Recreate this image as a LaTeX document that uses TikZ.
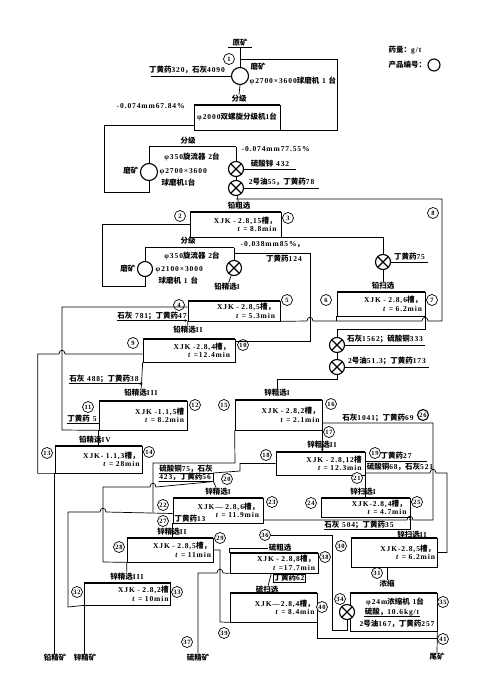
\documentclass[tikz,border=0pt]{standalone}
\usepackage{fontspec}
\setmainfont{Liberation Serif}[LetterSpace=12]
\newfontfamily\cjk{Noto Sans CJK SC}
\usetikzlibrary{arrows.meta}
% CJK characters switch to the CJK family automatically
\XeTeXinterchartokenstate=1
\newXeTeXintercharclass\CJKcls
\newcount\cjkn
\cjkn="4E00 \loop\XeTeXcharclass\cjkn=\CJKcls \ifnum\cjkn<"9FFF \advance\cjkn by 1 \repeat
\cjkn="3000 \loop\XeTeXcharclass\cjkn=\CJKcls \ifnum\cjkn<"303F \advance\cjkn by 1 \repeat
\cjkn="FF00 \loop\XeTeXcharclass\cjkn=\CJKcls \ifnum\cjkn<"FFEF \advance\cjkn by 1 \repeat
\XeTeXinterchartoks 0 \CJKcls = {\begingroup\cjk}
\XeTeXinterchartoks 4095 \CJKcls = {\begingroup\cjk}
\XeTeXinterchartoks \CJKcls 0 = {\endgroup}
\XeTeXinterchartoks \CJKcls 4095 = {\endgroup}

\tikzstyle{num} = [circle, draw, fill=white, line width=0.7pt, inner sep=0pt, minimum size=11pt, font=\bfseries\fontsize{6.5}{6.5}\selectfont]
\tikzstyle{mill} = [circle, draw, line width=1.1pt, inner sep=0pt, minimum size=17pt]
\tikzstyle{agit} = [circle, draw, fill=white, line width=1.1pt, inner sep=0pt, minimum size=15pt, path picture={\draw[line width=1.1pt] (path picture bounding box.south west) -- (path picture bounding box.north east) (path picture bounding box.north west) -- (path picture bounding box.south east);}]
\tikzstyle{cell} = [rectangle, draw, line width=0.7pt, inner xsep=2pt, inner ysep=1pt, align=right, text width=82pt, font=\bfseries\fontsize{7.5}{8.5}\selectfont]
\tikzstyle{txt} = [inner sep=0.5pt, font=\bfseries\fontsize{7.5}{8}\selectfont]
\tikzstyle{tag} = [txt, fill=white]
\tikzstyle{flow} = [line width=0.7pt]
\tikzstyle{bar} = [line width=1.8pt]
\tikzstyle{cyc} = [line width=0.6pt, double, double distance=1pt]
\tikzstyle{arrow} = [flow, -{Stealth[length=3pt, width=2.5pt]}]

\begin{document}
\begin{tikzpicture}[x=1pt, y=-1pt]
\useasboundingbox (0,0) rectangle (488,677);

% legend
\node[txt, anchor=west] (dose) at (388,50) {药量：g/t};
\node[txt, anchor=west] (code) at (388,65) {产品编号：};
\node[num, minimum size=12pt, line width=1.1pt] (key) at (434,65) {};

% machines
\node[txt, minimum width=24pt] (feed) at (240,43) {原矿};
\node[mill] (m1) at (240,76) {};
\node[mill] (m2) at (149,172) {};
\node[mill, minimum size=15pt] (m3) at (145,269) {};
\node[cell, minimum width=86pt, minimum height=25pt, align=center] (cls) at (237,117.5) {φ2000双螺旋分级机1台};
\coordinate (cy1a) at (149,147);
\coordinate (cy1b) at (236,147);
\coordinate (cy2a) at (145,248);
\coordinate (cy2b) at (234,248);

% flotation cells
\node[cell, minimum width=91pt, minimum height=25pt] (c2) at (235.5,224.5) {XJK - 2.8,15槽，\\\textit{t} = 8.8min};
\node[cell, minimum width=92pt, minimum height=20pt] (c4) at (234,311) {XJK - 2.8,5槽，\\\textit{t} = 5.3min};
\node[cell, minimum width=88pt, minimum height=24pt] (c6) at (381,304) {XJK - 2.8,6槽，\\\textit{t} = 6.2min};
\node[cell, minimum width=92pt, minimum height=23pt] (c9) at (189,350.5) {XJK -2.8,4槽，\\\textit{t} =12.4min};
\node[cell, minimum width=88pt, minimum height=29pt] (c11) at (143,415.5) {XJK -1.1,5槽\\\textit{t} = 8.2min};
\node[cell, minimum width=87pt, minimum height=27pt] (c13) at (98.5,459.5) {XJK- 1.1,3槽，\\\textit{t} = 28min};
\node[cell, minimum width=87pt, minimum height=30pt] (c15) at (278.5,415) {XJK - 2.8,2槽，\\\textit{t} = 2.1min};
\node[cell, minimum width=89pt, minimum height=23pt] (c18) at (320.5,463.5) {XJK - 2.8,12槽\\\textit{t} = 12.3min};
\node[cell, minimum width=90pt, minimum height=25pt] (c22) at (218,510.5) {XJK— 2.8,6槽，\\\textit{t} = 11.9min};
\node[cell, minimum width=89pt, minimum height=19pt] (c24) at (365.5,507.5) {XJK-2.8,4槽，\\\textit{t} = 4.7min};
\node[cell, minimum width=84pt, minimum height=24pt] (c28) at (170,550) {XJK - 2.8,5槽，\\\textit{t} = 11min};
\node[cell, minimum width=86pt, minimum height=29pt] (c30) at (394,552.5) {XJK-2.8,5槽，\\\textit{t} = 6.2min};
\node[cell, minimum width=85pt, minimum height=22pt] (c32) at (127.5,594) {XJK - 2.8,2槽\\\textit{t} = 10min};
\node[cell, minimum width=88pt, minimum height=20pt] (c38) at (274,563) {XJK - 2.8,8槽，\\\textit{t} =17.7min};
\node[cell, minimum width=87pt, minimum height=29pt] (c40) at (273.5,607.5) {XJK—2.8,4槽，\\\textit{t} = 8.4min};
\node[draw, line width=0.7pt, minimum width=87pt, minimum height=38pt, inner sep=0pt] (c34) at (393.5,612) {};

% conditioning tanks
\node[agit] (a1) at (236,169) {};
\node[agit] (a2) at (236,188) {};
\node[agit] (a3) at (234,268) {};
\node[agit] (a5) at (383,262) {};
\node[agit] (a4) at (337,345) {};
\node[agit] (a6) at (337,367) {};

% stage names
\node[txt] (l1) at (239,99) {分级};
\node[txt] (l2) at (188,141) {分级};
\node[tag] (l3) at (239,206) {铅粗选};
\node[txt] (l4) at (188,241) {分级};
\node[tag] (l5) at (227,287) {铅精选I};
\node[tag] (l6) at (383,286) {铅扫选};
\node[tag] (l7) at (188,330) {铅精选II};
\node[tag] (l8) at (141,393) {铅精选III};
\node[tag] (l10) at (95,440) {铅精选IV};
\node[tag] (l9) at (277,393) {锌粗选I};
\node[tag] (l11) at (322,445) {锌粗选II};
\node[tag] (l12) at (363,492) {锌扫选I};
\node[tag] (l13) at (412,535) {锌扫选II};
\node[tag] (l14) at (387,584) {浓缩};
\node[tag] (l15) at (280,548) {硫粗选};
\node[tag] (l16) at (267,590) {硫扫选};
\node[tag] (l17) at (218,492) {锌精选I};
\node[tag] (l18) at (172,532) {锌精选II};
\node[tag] (l19) at (127,577) {锌精选III};
\node[txt] (pb) at (55,658) {铅精矿};
\node[txt] (zn) at (85,658) {锌精矿};
\node[txt] (sconc) at (198,658) {硫精矿};
\node[txt] (tail) at (437,657) {尾矿};

% equipment notes and reagents
\node[txt, anchor=west] at (250,67) {磨矿};
\node[txt, anchor=west] at (249,81) {φ2700×3600球磨机 1 台};
\node[txt, anchor=west] at (116,106) {-0.074mm67.84\%};
\node[txt] at (192,157) {φ350旋流器 2台};
\node[txt, anchor=east] at (139,171) {磨矿};
\node[txt, anchor=west] at (159,172) {φ2700×3600};
\node[txt, anchor=west] at (161,183) {球磨机1台};
\node[txt, anchor=west] at (241,149) {-0.074mm77.55\%};
\node[txt] at (192,256) {φ350旋流器 2台};
\node[txt, anchor=west] at (240,245) {-0.038mm85\%，};
\node[txt, anchor=east] at (136,269) {磨矿};
\node[txt, anchor=west] at (155,270) {φ2100×3000};
\node[txt, anchor=west] at (158,281) {球磨机 1 台};
\node[txt] at (284,259) {丁黄药124};
\node[txt] (r4) at (152,316) {石灰 781；丁黄药47};
\node[txt] (r9) at (104,379) {石灰 488；丁黄药38};
\node[txt] (r11) at (82,419) {丁黄药 5};
\node[txt] at (378,418) {石灰1041；丁黄药69};
\node[txt] (r24) at (359,525) {石灰 504；丁黄药35};
\node[txt, align=left] (r20) at (186,473) {硫酸铜75，石灰\\423，丁黄药56};
\node[txt] (r22) at (190,519) {丁黄药13};
\node[txt, draw, line width=0.7pt] (r38) at (289,578) {丁黄药62};
\node[txt] at (395,602) {φ24m浓缩机 1台};
\node[txt] (r34) at (392,612) {硫酸，10.6kg/t};
\node[txt] at (397,624) {2号油167，丁黄药257};
\node[agit] (a7) at (347,612) {};

% stream numbers
\node[num] (n1) at (229,59) {1};
\node[num] (n2) at (180,216) {2};
\node[num] (n3) at (288,218) {3};
\node[num] (n4) at (179,305) {4};
\node[num] (n5) at (287,300) {5};
\node[num] (n6) at (326,300) {6};
\node[num] (n7) at (432,300) {7};
\node[num] (n8) at (433,213) {8};
\node[num] (n9) at (133,343) {9};
\node[num] (n10) at (243,345) {10};
\node[num] (n11) at (88,407) {11};
\node[num] (n12) at (195,405) {12};
\node[num] (n13) at (47,453) {13};
\node[num] (n14) at (149,452) {14};
\node[num] (n15) at (224,405) {15};
\node[num] (n16) at (331,404) {16};
\node[num] (n17) at (329,432) {17};
\node[num] (n18) at (266,455) {18};
\node[num] (n19) at (375,453) {19};
\node[num] (n20) at (227,479) {20};
\node[num] (n21) at (357,478) {21};
\node[num] (n22) at (163,505) {22};
\node[num] (n23) at (272,502) {23};
\node[num] (n24) at (311,503) {24};
\node[num] (n25) at (417,502) {25};
\node[num, line width=1.1pt] (n26) at (423,415) {26};
\node[num] (n27) at (163,521) {27};
\node[num] (n28) at (119,547) {28};
\node[num] (n30) at (341,546) {30};
\node[num] (n31) at (377,573) {31};
\node[num] (n32) at (77,592) {32};
\node[num] (n33) at (177,592) {33};
\node[num] (n34) at (340,599) {34};
\node[num] (n35) at (443,602) {35};
\node[num] (n36) at (265,535) {36};
\node[num] (n37) at (187,642) {37};
\node[num] (n38) at (325,557) {38};
\node[num] (n39) at (224,633) {39};
\node[num] (n40) at (322,607) {40};
\node[num] (n41) at (443,639) {41};

% grinding connectors
\draw[flow] (feed.south west) -- (feed.south east);
\draw[flow] (feed.south) -- (m1.north);
\draw[flow] (m1.west) -- ++(-80,0) node[txt, pos=0.55, above=1pt] {丁黄药320，石灰4090};
\draw[flow] (m1.south) -- (l1.north);
\draw[flow] (cls.south east) -- ++(57,0) |- (feed.south |- n1);
\draw[flow] ([yshift=5pt]cls.south west) -| ++(-89,67) -| (m2.south);
\draw[cyc] (cy1a) -- (cy1b);
\draw[flow] (cy1a) -- (m2.north);
\draw[flow] (cy1b) -- (a1.north);
\draw[flow] (a1) -- (a2);
\draw[flow] (a1.east) -- ++(52,0) node[txt, midway, above=1pt] {硫酸锌 432};
\draw[flow] (a2.east) -- ++(75,0) node[txt, midway, above=1pt] {2号油55，丁黄药78};

% lead circuit
\coordinate (p8) at (442,199);
\coordinate (p10) at (310,253);
\draw[flow] (a2) -- (l3);
\draw[flow] (c2.west) -| ++(-87,62) -| (m3.south);
\draw[cyc] (cy2a) -- (cy2b);
\draw[flow] (cy2a) -- (m3.north);
\draw[flow] (cy2b) -- (a3.north);
\draw[flow] (a3) -- (l5);
\draw[flow] (c4.south east) -- (307,321) .. controls (307,316) and (313,316) .. (313,321) -- (422,321) .. controls (422,316) and (428,316) .. (428,321) -| (p8) -- (a2 |- p8);
\draw[flow] (c2.south east) -| (a5.north);
\draw[flow] (a5.east) -- ++(37,0) node[txt, midway, above=1pt] {丁黄药75};
\draw[flow] (a5) -- (l6);
\draw[flow] (c6.south west) -- ++(0,5);
\draw[flow] (c6.south east) -- ++(0,13) -| (a4.north);
\draw[flow] (c4.south west) -- (l7);
\draw[flow] ([yshift=-3pt]c9.north east) -| (p10) -- (p10 -| a3);
\draw[arrow] (r4.south west) -- (r4.south west -| c4.south west);
\draw[flow] ([yshift=4pt]c4.west) -| (62,430) -- (c11.south west);
\draw[flow] (c9.south west) -- (l8);
\draw[arrow] (r9.south west) -- (r9.south west -| c9.south west);
\draw[flow] (r11.south west) -- (r11.south west -| c11.west);
\draw[flow] (c11.south west) -- (c11.south west |- c13.north);
\draw[flow] (c13.south west) -- ++(-17,0) |- (59,354) .. controls (59,349) and (65,349) .. (65,354) -- (c9.west |- 0,354);
\draw[flow] (c13.south west) -- (c13.south west |- pb.north);

% zinc circuit
\draw[flow] (a4) -- (a6);
\draw[flow] (a4.east) -- ++(80,0) node[txt, midway, above=1pt] {石灰1562；硫酸铜333};
\draw[flow] (a6.east) -- ++(84,0) node[txt, midway, above=1pt] {2号油51.3；丁黄药173};
\draw[flow] (a6.south) -- ++(0,4) -| (l9.north);
\draw[flow] (c22.east |- 0,520) -- (407,520) .. controls (407,515) and (413,515) .. (413,520) -| (433,423) -- (c15.east |- 0,423);
\draw[arrow] (c15.south east) -- (c15.south east |- c18.north);
\draw[flow] (c18.east |- 0,461) -- (427,461) node[txt, midway, above=0.5pt] {丁黄药27};
\draw[flow] (c18.east |- 0,473) -- (430,473) .. controls (430,468) and (436,468) .. (436,473) -- (447,473) |- (c30.east);
\node[txt] at (400,467) {硫酸铜68，石灰521};
\draw[flow] (c15.south west) -- (235,463) -- (153,463) -- (153,512);
\draw[flow] (r20.south west) -- (r20.south east) -- (r20.east) -- (240,471) |- (c18.west);
\draw[flow] (r20.west) -- (r20.east);
\draw[flow] (r20.south east) -- (l17);
\draw[flow] (c18.south east) -- (c18.south east |- c24.north);
\draw[arrow] (r24.south west) -- (r24.south west -| c24.south east) -- (c24.south east);
\draw[flow] (r22.south west) -- (r22.south east);
\draw[flow] ([yshift=-3pt]c22.west) -- (106,512) .. controls (106,507) and (100,507) .. (100,512) -| (68,607) -- (c32.south west);
\draw[flow] (c22.south west) -- (c22.south west |- c28.north);
\draw[flow] (c28.south west) -- (103,562) -- (103,487) -- (150,487) .. controls (150,482) and (156,482) .. (156,487) -- (r20.south east);
\draw[flow] (c28.south west) -- (l19);
\draw[flow] (c32.south west) -- (c32.south west |- zn.north);
\draw[flow] (c30.south -| l14) -- (l14);

% thickener and sulphur flotation
\draw[bar] (c34.north west) -- (c34.north east);
\draw[flow] (r34.south west) -- (r34.south east);
\draw[flow] (a7.south) |- (332,630) |- (n36.east);
\draw[flow] (c34.south east) -- (tail.north);
\draw[flow] (c38.north west) |- (l15.west);
\draw[flow] (c38) -- (l16);
\draw[flow] (c40.south east) |- (c34.south east |- 0,638);
\draw[flow] (c28.east) -| (220,622) -- (c40.south west);
\node[num] (n29) at (220,538) {29};
\draw[flow] (c38.south west) -- (223,573) .. controls (223,568) and (217,568) .. (217,573) -| (sconc.north);

% heavy top edges of the cells
\foreach \c in {cls,c2,c4,c6,c9,c11,c13,c15,c18,c22,c24,c28,c30,c32,c38,c40}
  \draw[bar] (\c.north west) -- (\c.north east);
\end{tikzpicture}
\end{document}
